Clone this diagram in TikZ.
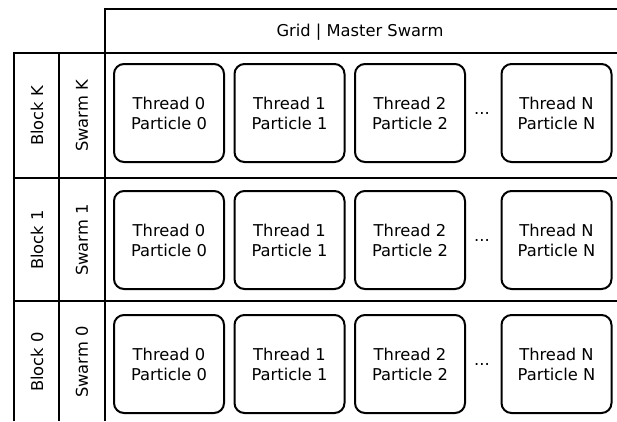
\documentclass[tikz,border=0pt]{standalone}
\usepackage{fontspec}
\setmainfont{DejaVu Sans}
\begin{document}
\begin{tikzpicture}[x=1pt,y=-1pt,
  frame/.style={line width=2.2pt},
  txt/.style={font=\fontsize{16.3}{20}\selectfont, text=black},
  cell/.style={draw, line width=2pt, rounded corners=10pt, minimum width=110pt,
    minimum height=98pt, align=center, inner sep=0pt, txt}]
\useasboundingbox (0,0) rectangle (617,421);
% grid frame
\draw[frame] (105,421) -- (105,9) -- (618,9);
\draw[frame] (14,421) -- (14,53) -- (618,53);
\draw[frame] (59,53) -- (59,421);
\draw[frame] (14,178) -- (618,178);
\draw[frame] (14,301) -- (618,301);
% header
\node[txt] (hdr) at (360,32) {Grid | Master Swarm};
% row labels
\node[txt, rotate=90] (bK) at (37,116) {Block K};
\node[txt, rotate=90] (sK) at (82,116) {Swarm K};
\node[txt, rotate=90] (b1) at (37,240) {Block 1};
\node[txt, rotate=90] (s1) at (82,240) {Swarm 1};
\node[txt, rotate=90] (b0) at (37,362) {Block 0};
\node[txt, rotate=90] (s0) at (82,362) {Swarm 0};
% cells
\foreach \r/\y in {K/113, 1/240, 0/364} {
  \node[cell] (c\r-0) at (169,\y) {Thread 0\\Particle 0};
  \node[cell] (c\r-1) at (289.5,\y) {Thread 1\\Particle 1};
  \node[cell] (c\r-2) at (410,\y) {Thread 2\\Particle 2};
  \node[txt] (d\r) at (482,\y) {...};
  \node[cell] (c\r-N) at (556.5,\y) {Thread N\\Particle N};
}
\end{tikzpicture}
\end{document}
